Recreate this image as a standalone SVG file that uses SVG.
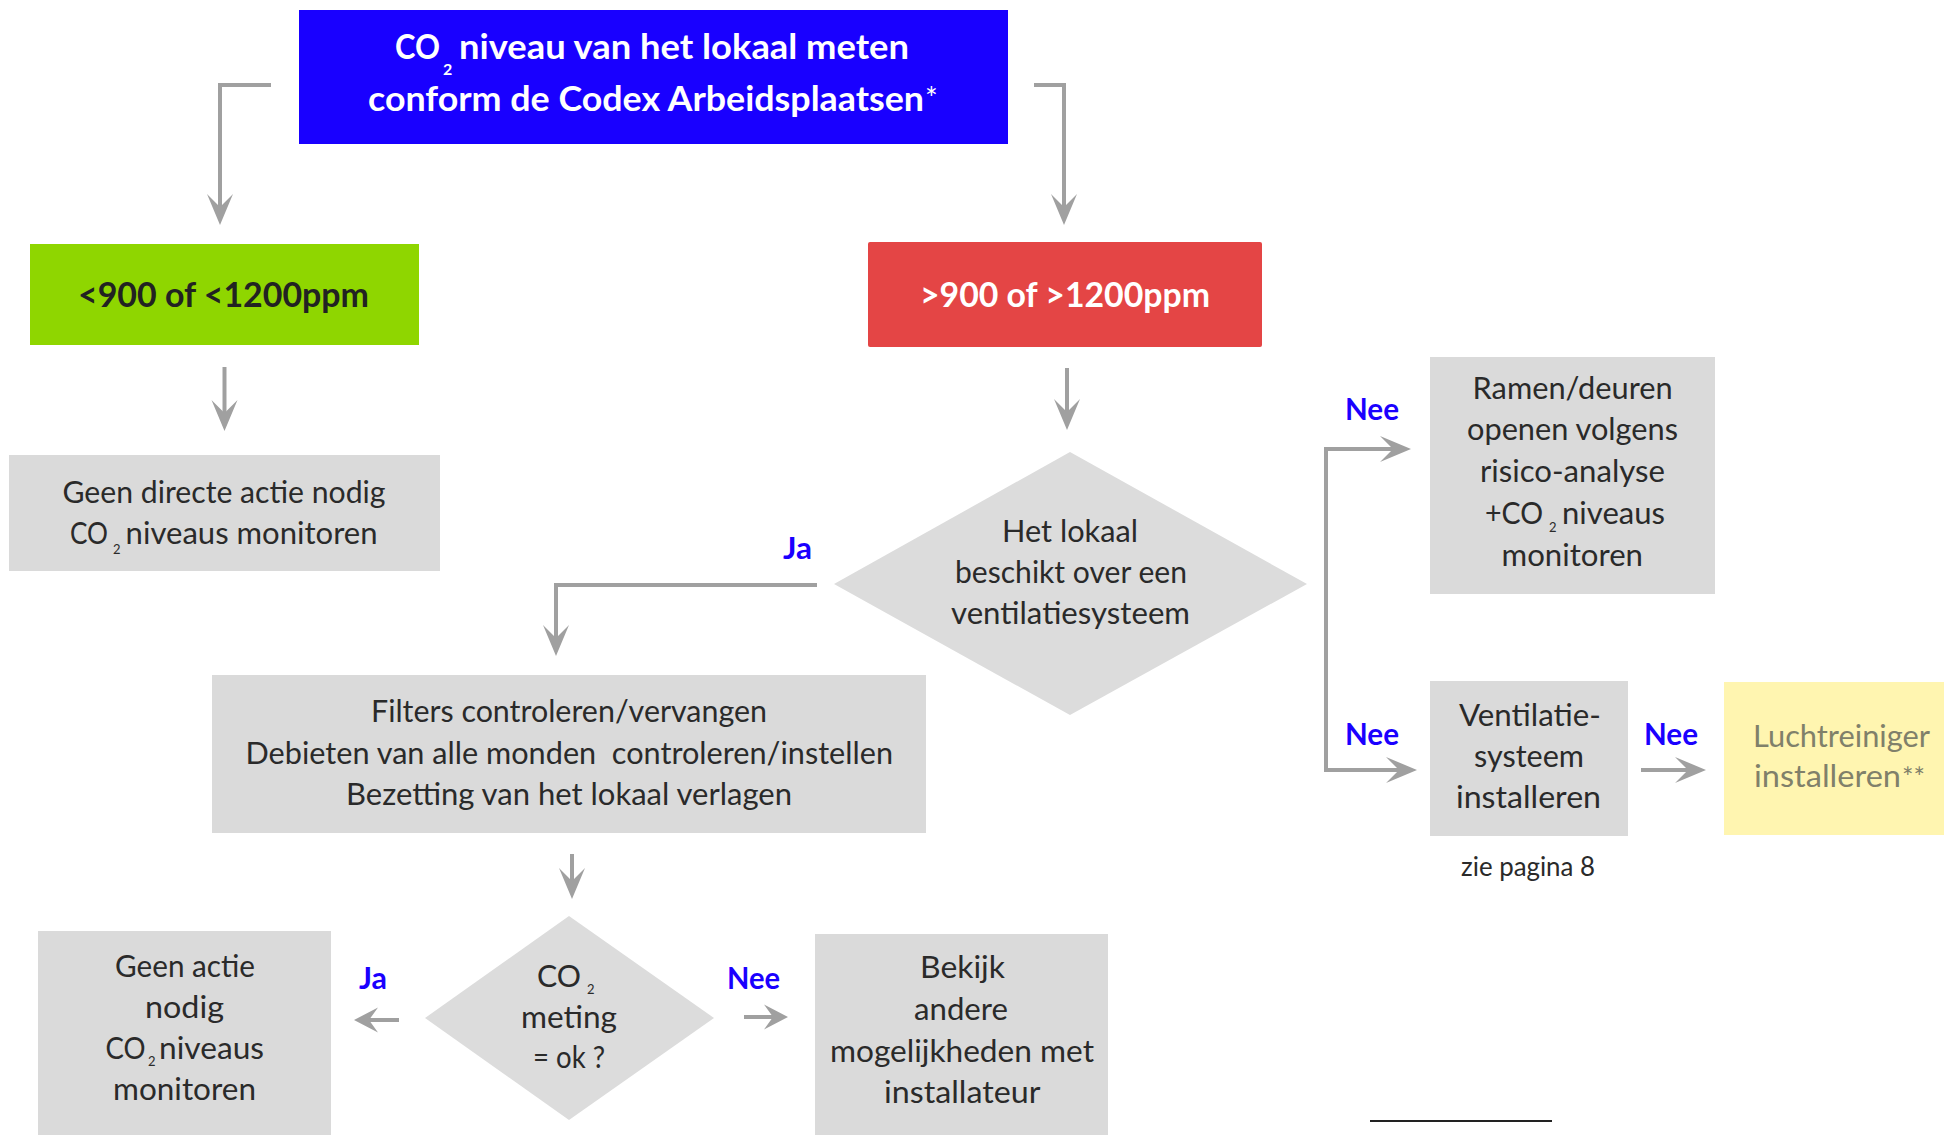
<svg xmlns="http://www.w3.org/2000/svg" width="1944" height="1135" viewBox="0 0 1944 1135">
  <style>
    text { font-family: Lato, "Open Sans", "Liberation Sans", sans-serif; }
    .t { font-size: 31px; fill: #2a2a2a; }
    .sub { font-size: 13px; }
    .title { font-size: 35px; font-weight: 700; fill: #ffffff; }
    .lvl { font-size: 35px; font-weight: 700; }
    .lbl { font-size: 31px; font-weight: 700; fill: #1a00ff; }
    .box { fill: #dadada; }
    .dia { fill: #dcdcdc; }
    .con { fill: none; stroke: #a0a0a0; stroke-width: 4; }
    .olive { fill: #80806a; }
  </style>
  <defs>
    <marker id="head" markerUnits="userSpaceOnUse" markerWidth="32" markerHeight="26" refX="13" refY="13" orient="auto" overflow="visible">
      <path d="M0,0 L31,13 L0,26 L13,13 Z" fill="#a0a0a0"/>
    </marker>
    <marker id="head-s" markerUnits="userSpaceOnUse" markerWidth="24" markerHeight="25" refX="9" refY="12.5" orient="auto" overflow="visible">
      <path d="M0,0 L24,12.5 L0,25 L9,12.5 Z" fill="#a0a0a0"/>
    </marker>
  </defs>

  <rect width="1944" height="1135" fill="#ffffff"/>

  <!-- connectors -->
  <g id="connectors">
    <path class="con" d="M271,85 H220 V207" marker-end="url(#head)"/>
    <path class="con" d="M1034,85 H1064 V207" marker-end="url(#head)"/>
    <path class="con" d="M224.5,367 V413" marker-end="url(#head)"/>
    <path class="con" d="M1067,368 V412" marker-end="url(#head)"/>
    <path class="con" d="M817,585 H556 V638" marker-end="url(#head)"/>
    <path class="con" stroke-linecap="square" d="M1326,770 V449 H1393" marker-end="url(#head)"/>
    <path class="con" stroke-linecap="square" d="M1326,770 H1399" marker-end="url(#head)"/>
    <path class="con" d="M1641,770 H1688" marker-end="url(#head)"/>
    <path class="con" d="M572,854 V881" marker-end="url(#head)"/>
    <path class="con" d="M399,1020 H369" marker-end="url(#head-s)"/>
    <path class="con" d="M744,1017 H773" marker-end="url(#head-s)"/>
  </g>

  <!-- start: measure CO2 -->
  <g id="measure">
    <rect x="299" y="10" width="709" height="134" fill="#1900ff"/>
    <text class="title" x="395" y="59"><tspan textLength="45" lengthAdjust="spacingAndGlyphs">CO</tspan><tspan x="443" dy="16" style="font-size:16px">2</tspan><tspan x="459" dy="-16" textLength="450" lengthAdjust="spacingAndGlyphs">niveau van het lokaal meten</tspan></text>
    <text class="title" x="368" y="111"><tspan textLength="556" lengthAdjust="spacingAndGlyphs">conform de Codex Arbeidsplaatsen</tspan><tspan x="925" dy="-2" style="font-size:30px;font-weight:400">*</tspan></text>
  </g>

  <!-- low level -->
  <g id="low">
    <rect x="30" y="244" width="389" height="101" fill="#8fd600"/>
    <text class="lvl" x="78" y="307" fill="#222222" textLength="291" lengthAdjust="spacingAndGlyphs">&lt;900 of &lt;1200ppm</text>
  </g>

  <!-- high level -->
  <g id="high">
    <rect x="868" y="242" width="394" height="105" rx="2" fill="#e44545"/>
    <text class="lvl" x="920" y="307" fill="#ffffff" textLength="290" lengthAdjust="spacingAndGlyphs">&gt;900 of &gt;1200ppm</text>
  </g>

  <!-- no direct action -->
  <g id="no-direct-action">
    <rect class="box" x="9" y="455" width="431" height="116"/>
    <text class="t" x="62.5" y="503" textLength="323" lengthAdjust="spacingAndGlyphs">Geen directe actie nodig</text>
    <text class="t" x="70" y="544"><tspan textLength="38" lengthAdjust="spacingAndGlyphs">CO</tspan><tspan class="sub" x="113" dy="10">2</tspan><tspan x="125.6" dy="-10" textLength="252" lengthAdjust="spacingAndGlyphs">niveaus monitoren</tspan></text>
  </g>

  <!-- decision: ventilation system present -->
  <g id="has-ventilation">
    <polygon class="dia" points="1070,452 1307,584 1070,715 834,584"/>
    <text class="t" x="1002" y="542" textLength="136" lengthAdjust="spacingAndGlyphs">Het lokaal</text>
    <text class="t" x="955" y="583" textLength="232" lengthAdjust="spacingAndGlyphs">beschikt over een</text>
    <text class="t" x="951" y="624" textLength="239" lengthAdjust="spacingAndGlyphs">ventilatiesysteem</text>
  </g>

  <!-- yes / no labels -->
  <g id="labels">
    <text class="lbl" x="783" y="559" textLength="29" lengthAdjust="spacingAndGlyphs">Ja</text>
    <text class="lbl" x="1345" y="420" textLength="54" lengthAdjust="spacingAndGlyphs">Nee</text>
    <text class="lbl" x="1345" y="745" textLength="54" lengthAdjust="spacingAndGlyphs">Nee</text>
    <text class="lbl" x="1644" y="745" textLength="54" lengthAdjust="spacingAndGlyphs">Nee</text>
    <text class="lbl" x="359" y="989" textLength="28" lengthAdjust="spacingAndGlyphs">Ja</text>
    <text class="lbl" x="727" y="989" textLength="53" lengthAdjust="spacingAndGlyphs">Nee</text>
  </g>

  <!-- open windows -->
  <g id="open-windows">
    <rect class="box" x="1430" y="357" width="285" height="237"/>
    <text class="t" x="1472.6" y="399" textLength="200" lengthAdjust="spacingAndGlyphs">Ramen/deuren</text>
    <text class="t" x="1467" y="440" textLength="211" lengthAdjust="spacingAndGlyphs">openen volgens</text>
    <text class="t" x="1480" y="482" textLength="185" lengthAdjust="spacingAndGlyphs">risico-analyse</text>
    <text class="t" x="1485" y="524"><tspan textLength="58" lengthAdjust="spacingAndGlyphs">+CO</tspan><tspan class="sub" x="1549" dy="8">2</tspan><tspan x="1562" dy="-8" textLength="103" lengthAdjust="spacingAndGlyphs">niveaus</tspan></text>
    <text class="t" x="1501.5" y="566" textLength="141.5" lengthAdjust="spacingAndGlyphs">monitoren</text>
  </g>

  <!-- install ventilation -->
  <g id="install-ventilation">
    <rect class="box" x="1430" y="681" width="198" height="155"/>
    <text class="t" x="1459" y="726" textLength="142" lengthAdjust="spacingAndGlyphs">Ventilatie-</text>
    <text class="t" x="1474" y="767" textLength="110" lengthAdjust="spacingAndGlyphs">systeem</text>
    <text class="t" x="1456" y="808" textLength="145" lengthAdjust="spacingAndGlyphs">installeren</text>
    <text class="t" x="1461" y="876" style="font-size:26px" textLength="134" lengthAdjust="spacingAndGlyphs">zie pagina 8</text>
  </g>

  <!-- air purifier -->
  <g id="air-purifier">
    <rect x="1724" y="682" width="220" height="153" fill="#fff5b0"/>
    <text class="t olive" x="1753" y="747" style="fill:#80806a" textLength="177" lengthAdjust="spacingAndGlyphs">Luchtreiniger</text>
    <text class="t olive" x="1754" y="787" style="fill:#80806a"><tspan textLength="147" lengthAdjust="spacingAndGlyphs">installeren</tspan><tspan x="1902" style="font-size:27px" textLength="23" lengthAdjust="spacingAndGlyphs">**</tspan></text>
  </g>

  <!-- maintenance actions -->
  <g id="maintenance">
    <rect class="box" x="212" y="675" width="714" height="158"/>
    <text class="t" x="371" y="722" textLength="396" lengthAdjust="spacingAndGlyphs">Filters controleren/vervangen</text>
    <text class="t" x="245.5" y="764" textLength="647.5" lengthAdjust="spacingAndGlyphs" xml:space="preserve">Debieten van alle monden  controleren/instellen</text>
    <text class="t" x="346" y="805" textLength="446" lengthAdjust="spacingAndGlyphs">Bezetting van het lokaal verlagen</text>
  </g>

  <!-- decision: measurement ok -->
  <g id="measurement-ok">
    <polygon class="dia" points="569,916 714,1018 569,1120 425,1018"/>
    <text class="t" x="537" y="987"><tspan textLength="44" lengthAdjust="spacingAndGlyphs">CO</tspan><tspan class="sub" x="587" dy="7">2</tspan></text>
    <text class="t" x="521" y="1028" textLength="96" lengthAdjust="spacingAndGlyphs">meting</text>
    <text class="t" x="533" y="1068" textLength="72" lengthAdjust="spacingAndGlyphs">= ok ?</text>
  </g>

  <!-- no action needed -->
  <g id="no-action">
    <rect class="box" x="38" y="931" width="293" height="204"/>
    <text class="t" x="115" y="977" textLength="140" lengthAdjust="spacingAndGlyphs">Geen actie</text>
    <text class="t" x="145" y="1018" textLength="79" lengthAdjust="spacingAndGlyphs">nodig</text>
    <text class="t" x="105.6" y="1059"><tspan textLength="40" lengthAdjust="spacingAndGlyphs">CO</tspan><tspan class="sub" x="148" dy="7">2</tspan><tspan x="159" dy="-7" textLength="105" lengthAdjust="spacingAndGlyphs">niveaus</tspan></text>
    <text class="t" x="113" y="1100" textLength="143" lengthAdjust="spacingAndGlyphs">monitoren</text>
  </g>

  <!-- consult installer -->
  <g id="installer">
    <rect class="box" x="815" y="934" width="293" height="201"/>
    <text class="t" x="920" y="978" textLength="85" lengthAdjust="spacingAndGlyphs">Bekijk</text>
    <text class="t" x="914" y="1020" textLength="94" lengthAdjust="spacingAndGlyphs">andere</text>
    <text class="t" x="830" y="1062" textLength="264" lengthAdjust="spacingAndGlyphs">mogelijkheden met</text>
    <text class="t" x="884" y="1103" textLength="156.5" lengthAdjust="spacingAndGlyphs">installateur</text>
  </g>

  <!-- footnote rule -->
  <line x1="1370" y1="1121" x2="1552" y2="1121" stroke="#222222" stroke-width="2"/>
</svg>
